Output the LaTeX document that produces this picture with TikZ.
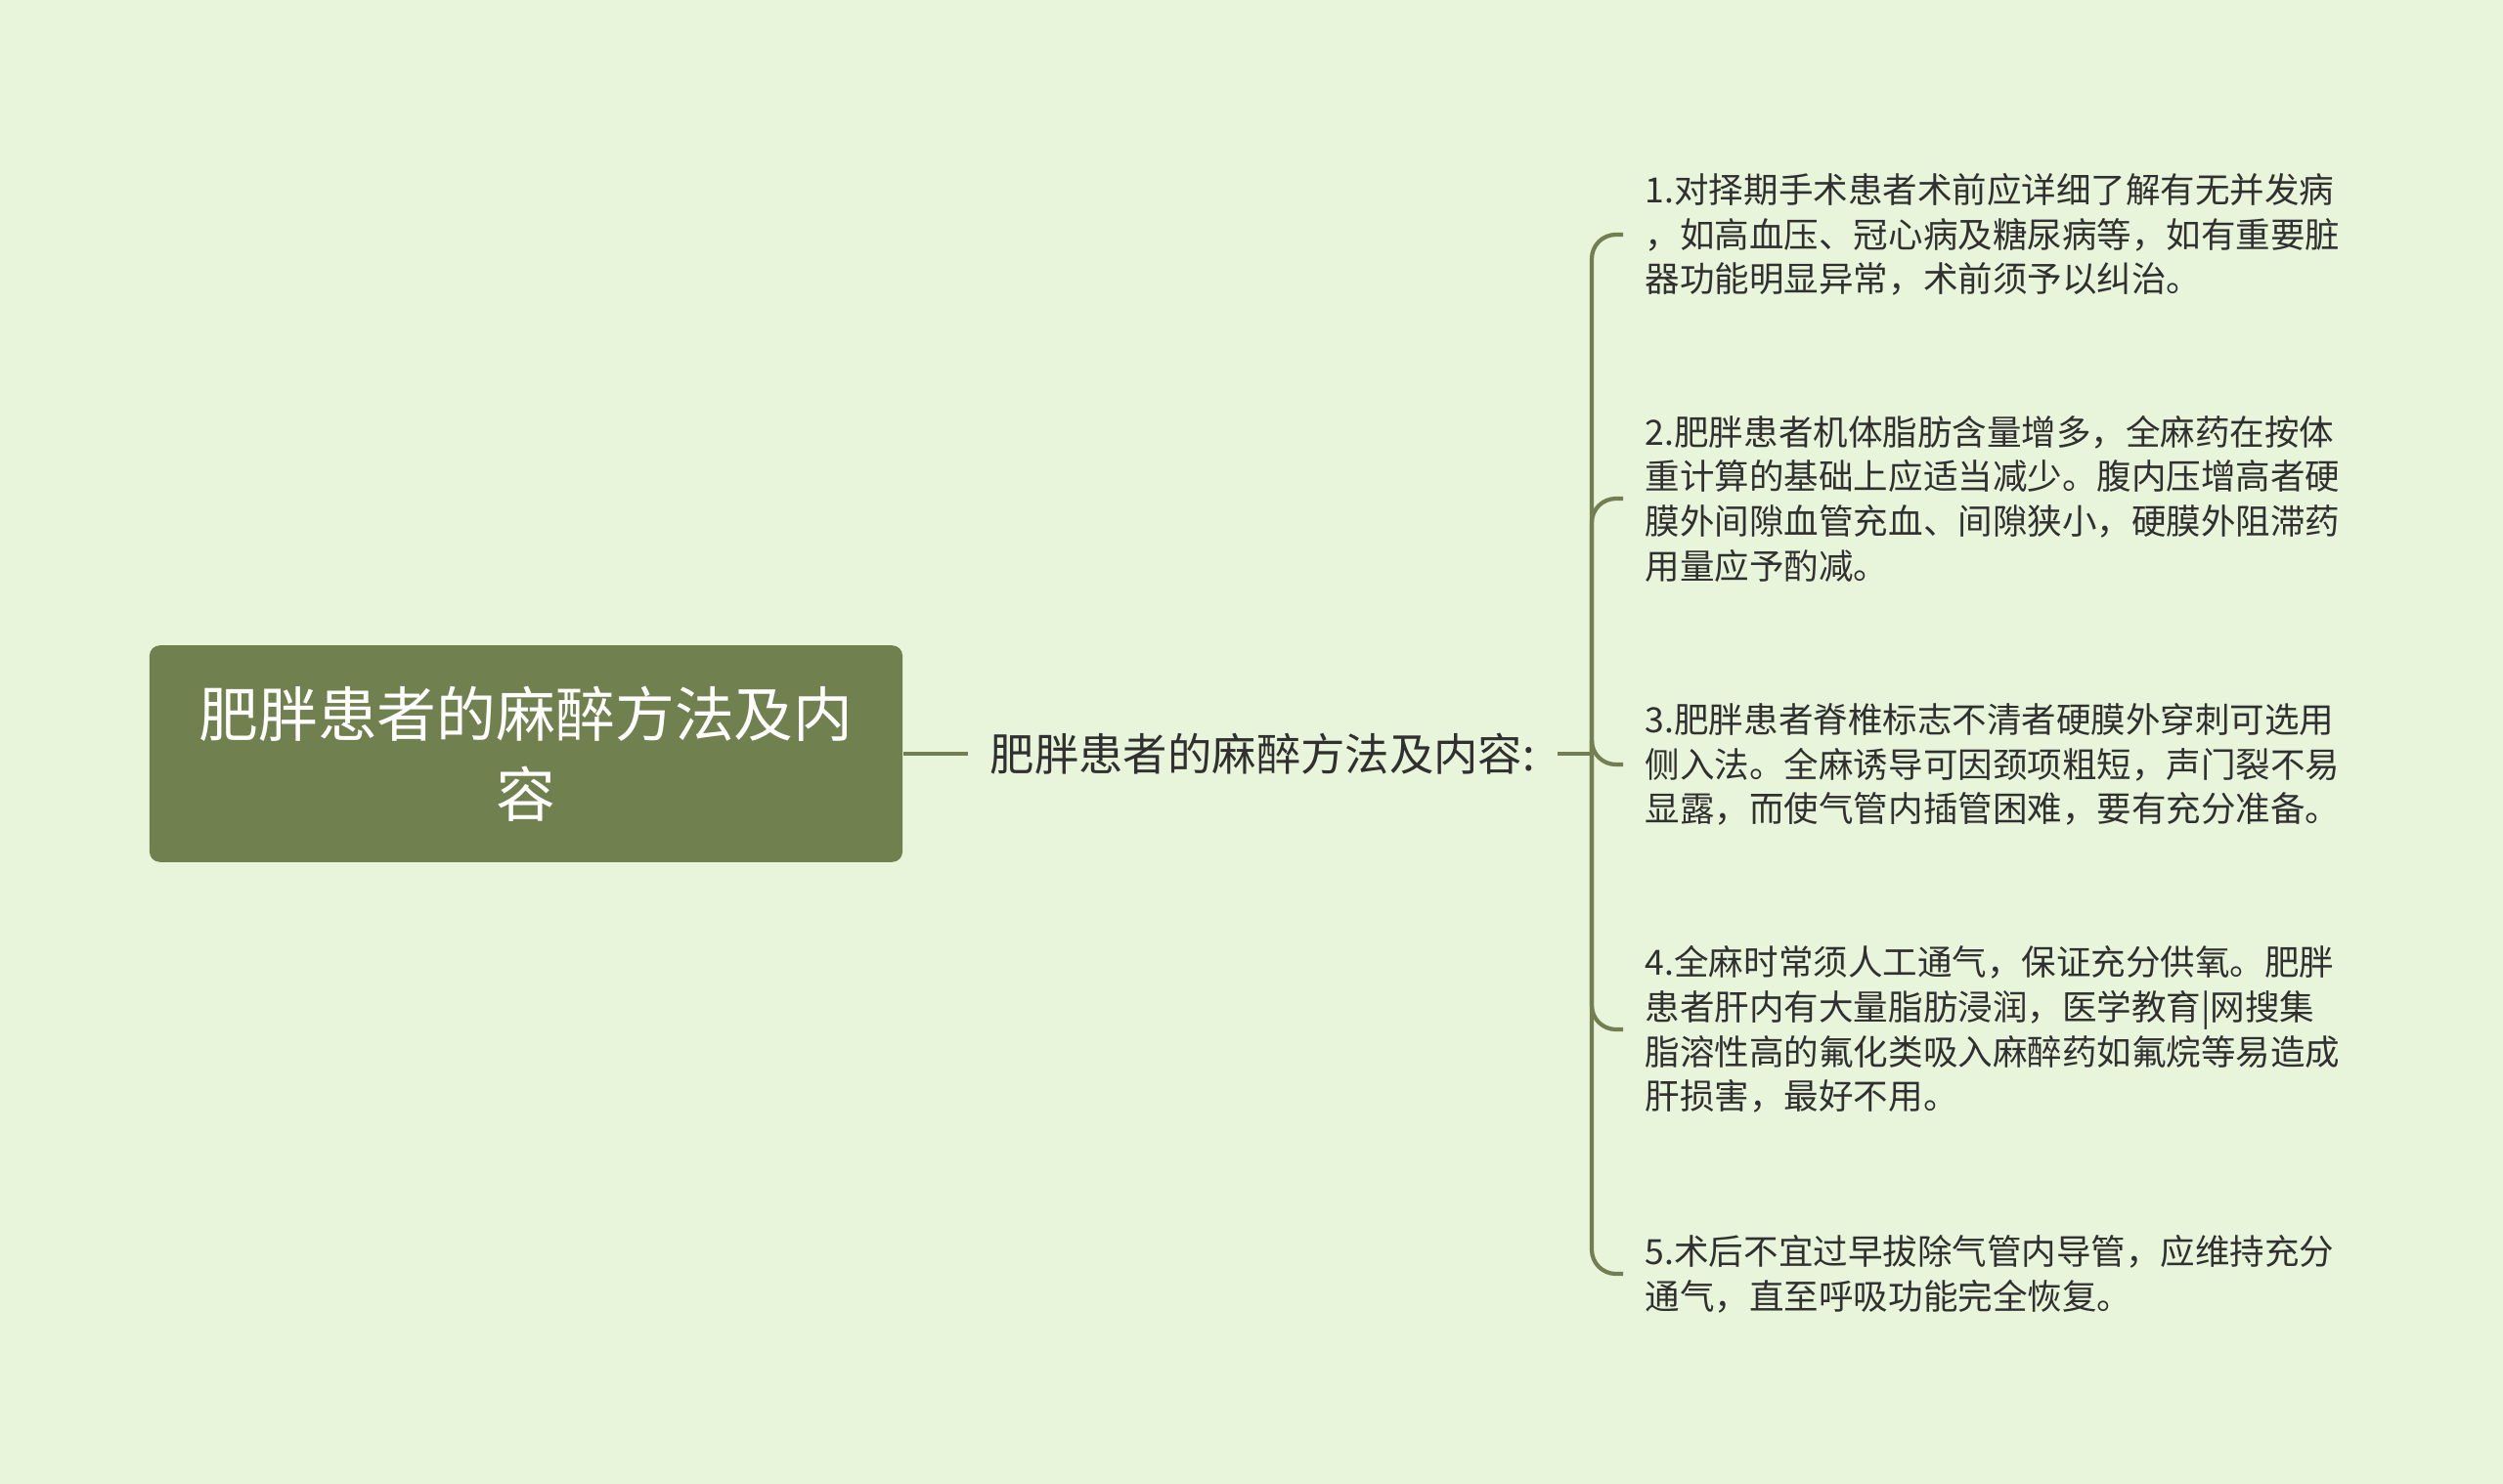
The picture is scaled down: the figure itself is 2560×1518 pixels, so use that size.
\documentclass[tikz,border=0pt]{standalone}
\usepackage{fontspec}
\setmainfont{Noto Sans CJK SC}
\definecolor{bgcol}{HTML}{E9F5DB}
\definecolor{boxcol}{HTML}{71804F}
\definecolor{linecol}{HTML}{737F52}
\definecolor{txtcol}{HTML}{303030}
\tikzset{
  rootbox/.style={fill=boxcol, rounded corners=3pt, minimum width=219pt, minimum height=63pt,
    align=center, text=white, font=\fontsize{17.3pt}{23.3pt}\selectfont},
  topicbox/.style={anchor=west, inner xsep=6.3pt, inner ysep=0pt, text=txtcol,
    font=\fontsize{12.9pt}{16pt}\selectfont},
  leafbox/.style={anchor=west, inner xsep=6.3pt, inner ysep=0pt, align=left, text=txtcol,
    font=\fontsize{10.1pt}{13pt}\selectfont},
  link/.style={draw=linecol, line width=1.2pt, rounded corners=7pt}
}
\begin{document}
\begin{tikzpicture}[x=0.01cm,y=-0.01cm]
    \useasboundingbox (0,0) rectangle (2560,1518);
    \fill[bgcol] (0,0) rectangle (2560,1518);

    \node[rootbox] (root) at (538,771) {肥胖患者的麻醉方法及内\\容};
    \node[topicbox] (topic) at (990,771) {肥胖患者的麻醉方法及内容:};
    \coordinate (hub) at (1628,771);

    \node[leafbox] (l1) at (1660,240) {1.对择期手术患者术前应详细了解有无并发病\\，如高血压、冠心病及糖尿病等，如有重要脏\\器功能明显异常，术前须予以纠治。};
    \node[leafbox] (l2) at (1660,510) {2.肥胖患者机体脂肪含量增多，全麻药在按体\\重计算的基础上应适当减少。腹内压增高者硬\\膜外间隙血管充血、间隙狭小，硬膜外阻滞药\\用量应予酌减。};
    \node[leafbox] (l3) at (1660,782) {3.肥胖患者脊椎标志不清者硬膜外穿刺可选用\\侧入法。全麻诱导可因颈项粗短，声门裂不易\\显露，而使气管内插管困难，要有充分准备。};
    \node[leafbox] (l4) at (1660,1053) {4.全麻时常须人工通气，保证充分供氧。肥胖\\患者肝内有大量脂肪浸润，医学教育|网搜集\\脂溶性高的氟化类吸入麻醉药如氟烷等易造成\\肝损害，最好不用。};
    \node[leafbox] (l5) at (1660,1303) {5.术后不宜过早拔除气管内导管，应维持充分\\通气，直至呼吸功能完全恢复。};

    \draw[link] (root.east) -- (topic.west);
    \draw[link] (topic.east) -- (hub);
    \foreach \n in {l1,l2,l3,l4,l5}
        \draw[link] (hub) |- (\n.west);
\end{tikzpicture}
\end{document}
